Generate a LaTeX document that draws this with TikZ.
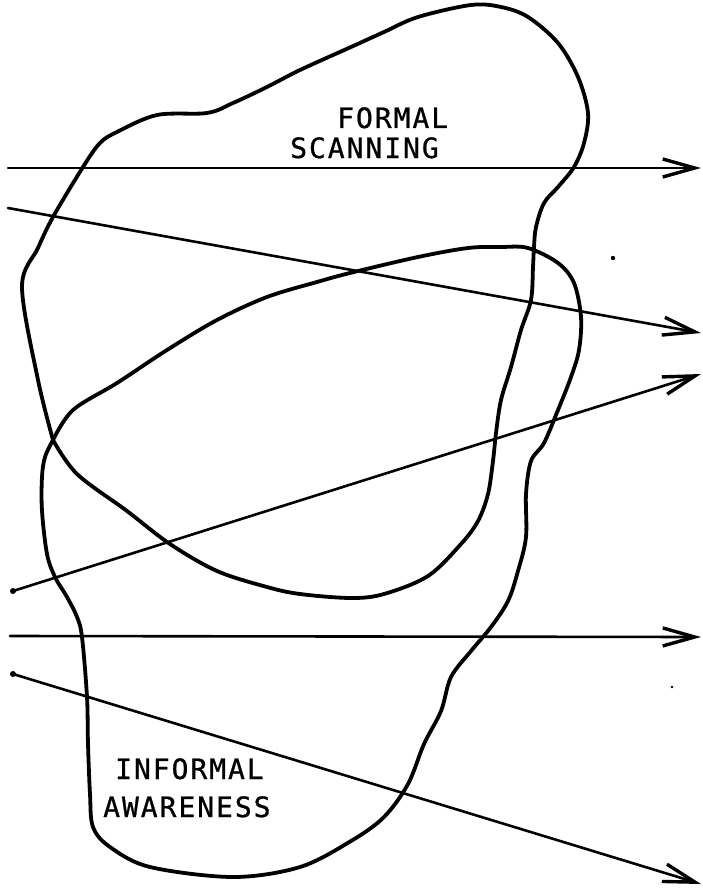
\documentclass[tikz,border=0pt]{standalone}
\usepackage{fontspec}
\newfontfamily\lblfont{DejaVu Sans Mono}[LetterSpace=7,FakeBold=0.8]
\usetikzlibrary{arrows.meta}
\tikzset{
  blob/.style={line width=3.8pt, line join=round, line cap=round},
  ray/.style={line width=2.6pt, line cap=round, -{Straight Barb[length=32pt,width=18pt,line width=3.4pt]}},
  lbl/.style={inner sep=0pt, anchor=base west, font=\lblfont\fontsize{28}{30}\selectfont},
  speck/.style={fill=black, draw=none}
}
\begin{document}
\begin{tikzpicture}[x=1pt,y=-1pt]
\useasboundingbox (0,0) rectangle (702,888);
% Formal scanning blob
\draw[blob] plot[smooth, tension=0.55] coordinates {
 (53,440) (38,380) (22,287) (38,248) (53,217) (83,167) (100,143) (117,132) (157,115) (207,113)
 (233,103) (267,87) (300,70) (351,47) (384,32) (418,17) (471,5) (501,7) (528,17) (558,43)
 (578,77) (588,113) (584,143) (574,167) (558,187) (544,203) (536,227) (534,247) (533,267)
 (531,300) (521,330) (511,367) (501,400) (496,433) (493,461) (488,494) (478,521) (461,544)
 (428,576) (384,594) (351,598) (300,594) (267,587) (217,571) (170,544) (127,511) (77,474) (53,440)};
% Informal awareness blob
\draw[blob] plot[smooth, tension=0.55] coordinates {
 (53,440) (73,410) (117,383) (167,350) (217,320) (267,297) (317,282) (350,273) (418,257)
 (468,248) (501,247) (528,248) (558,263) (574,283) (581,317) (579,350) (571,377) (558,410)
 (544,443) (531,461) (526,494) (526,537) (518,571) (508,601) (491,627) (471,651) (451,677)
 (441,711) (424,744) (408,784) (384,817) (351,841) (300,867) (233,877) (150,867) (110,847)
 (93,827) (90,794) (88,744) (87,697) (82,637) (77,617) (67,597) (55,577) (47,554) (42,511)
 (42,477) (45,457) (53,440)};
% rays
\coordinate (s1) at (8,168);   \coordinate (e1) at (701,168);
\coordinate (s2) at (8,208);   \coordinate (e2) at (701,333);
\coordinate (s3) at (13,591);  \coordinate (e3) at (701,374);
\coordinate (s4) at (10,636);  \coordinate (e4) at (701,637);
\coordinate (s5) at (13,674);  \coordinate (e5) at (701,884);
\draw[ray] (s1) -- (e1);
\draw[ray] (s2) -- (e2);
\draw[ray] (s3) -- (e3);
\draw[ray] (s4) -- (e4);
\draw[ray] (s5) -- (e5);
\fill (s3) circle (3pt);
\fill (s5) circle (3pt);
% labels
\node[lbl] (formal) at (337,128) {FORMAL};
\node[lbl] (scanning) at (290,158) {SCANNING};
\node[lbl] (informal) at (115,779) {INFORMAL};
\node[lbl] (awareness) at (103,817) {AWARENESS};
% specks
\fill[speck] (613,258) circle (2.2pt);
\fill[speck] (672,687) circle (1.3pt);
\end{tikzpicture}
\end{document}
